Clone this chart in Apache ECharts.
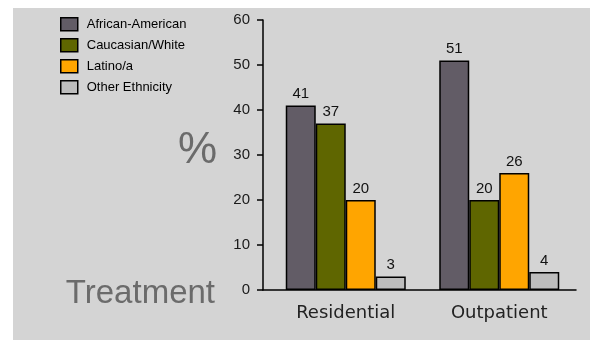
<!DOCTYPE html>
<html>
<head>
<meta charset="utf-8">
<script src="https://cdn.jsdelivr.net/npm/echarts@6/dist/echarts.min.js"></script>
<style>
  html, body { margin: 0; padding: 0; background: #ffffff; }
  #wrap { position: relative; width: 590px; height: 343px; background: #ffffff; }
  #panel { position: absolute; left: 13px; top: 8px; width: 577px; height: 332px; background: #d4d4d4; }
  #chart { position: absolute; left: 0; top: 0; width: 590px; height: 343px; }
</style>
</head>
<body>
<div id="wrap">
  <div id="panel"></div>
  <div id="chart"></div>
</div>
<script>
// Treatment setting, share of clients (%) by ethnicity
const categories = ['Residential', 'Outpatient'];
const africanAmerican = [41, 51];
const caucasianWhite = [37, 20];
const latino = [20, 26];
const otherEthnicity = [3, 4];
const yTicks = { min: 0, max: 60, interval: 10 };

const seriesDefs = [
  { name: 'African-American', data: africanAmerican, color: '#625c66' },
  { name: 'Caucasian/White', data: caucasianWhite, color: '#5f6600' },
  { name: 'Latino/a', data: latino, color: '#ffa500' },
  { name: 'Other Ethnicity', data: otherEthnicity, color: '#bdbdbd' }
];

const numFont = 'Liberation Sans, Arial, sans-serif';
const chart = echarts.init(document.getElementById('chart'), null, { renderer: 'canvas' });

chart.setOption({
  backgroundColor: 'transparent',
  animation: false,
  legend: {
    orient: 'vertical',
    left: 60,
    top: 17,
    padding: 0,
    itemWidth: 17,
    itemHeight: 13,
    itemGap: 6.5,
    icon: 'rect',
    itemStyle: { borderColor: '#000', borderWidth: 1.5 },
    textStyle: { fontFamily: numFont, fontSize: 13, color: '#000', padding: [0, 0, 0, 4] },
    data: seriesDefs.map(s => s.name)
  },
  graphic: [
    {
      type: 'text', right: 590 - 217, top: 129,
      style: { text: '%', fontFamily: numFont, fontSize: 44, fill: '#6b6b6b' }
    },
    {
      type: 'text', right: 590 - 215, top: 277,
      style: { text: 'Treatment', fontFamily: numFont, fontSize: 33, fill: '#6b6b6b' }
    }
  ],
  grid: [
    { left: 263, top: 20, width: 313, height: 270 },
    { left: 269, top: 20, width: 307, height: 270 }
  ],
  xAxis: [
    {
      gridIndex: 0, type: 'value', min: 0, max: 1,
      axisLine: { show: true, lineStyle: { color: '#000', width: 1.5 } },
      axisTick: { show: false }, axisLabel: { show: false }, splitLine: { show: false }
    },
    {
      gridIndex: 1, type: 'category', data: categories,
      axisLine: { show: false }, axisTick: { show: false },
      axisLabel: { margin: 14, fontFamily: 'DejaVu Sans, sans-serif', fontSize: 18, color: '#222' }
    }
  ],
  yAxis: [
    {
      gridIndex: 0, type: 'value', min: yTicks.min, max: yTicks.max, interval: yTicks.interval,
      axisLine: { show: true, lineStyle: { color: '#000', width: 1.5 } },
      axisTick: { show: true, length: 6, lineStyle: { color: '#000', width: 1.5 } },
      axisLabel: { margin: 13, fontFamily: numFont, fontSize: 15, color: '#1a1a1a' },
      splitLine: { show: false }
    },
    {
      gridIndex: 1, type: 'value', min: yTicks.min, max: yTicks.max, interval: yTicks.interval,
      show: false
    }
  ],
  series: seriesDefs.map(s => ({
    name: s.name,
    type: 'bar',
    xAxisIndex: 1,
    yAxisIndex: 1,
    data: s.data,
    barWidth: 30,
    barGap: '0%',
    itemStyle: { color: s.color, borderColor: '#000', borderWidth: 1.5 },
    label: {
      show: true, position: 'top', distance: 4,
      fontFamily: numFont, fontSize: 15, color: '#111'
    }
  }))
});
</script>
</body>
</html>
